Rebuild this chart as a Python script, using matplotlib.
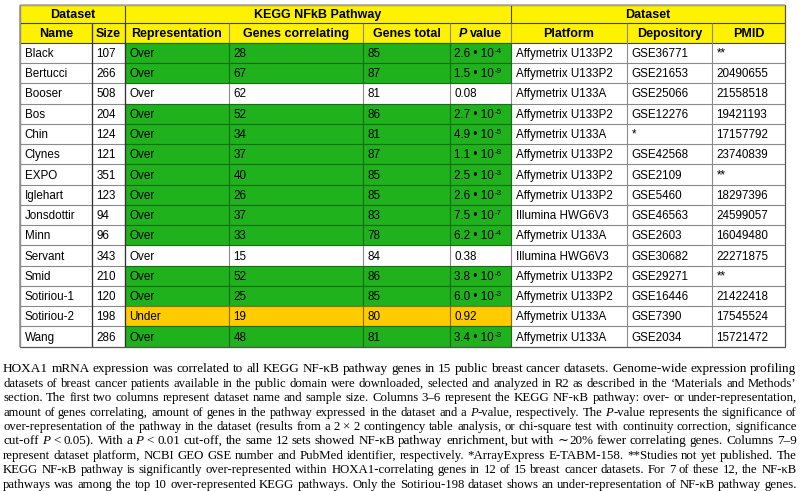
import re
import math
import matplotlib
matplotlib.use('Agg')
import matplotlib.pyplot as plt
from matplotlib.patches import Rectangle

# table data
names = ['Black', 'Bertucci', 'Booser', 'Bos', 'Chin', 'Clynes', 'EXPO', 'Iglehart',
         'Jonsdottir', 'Minn', 'Servant', 'Smid', 'Sotiriou-1', 'Sotiriou-2', 'Wang']
sizes = [107, 266, 508, 204, 124, 121, 351, 123, 94, 96, 343, 210, 120, 198, 286]
representation = ['Over'] * 13 + ['Under', 'Over']
genes_corr = [28, 67, 62, 52, 34, 37, 40, 26, 37, 33, 15, 52, 25, 19, 48]
genes_total = [85, 87, 81, 86, 81, 87, 85, 85, 83, 78, 84, 86, 85, 80, 81]
p_values = [2.6e-4, 1.5e-9, 0.08, 2.7e-5, 4.9e-5, 1.1e-8, 2.5e-3, 2.6e-3, 7.5e-7,
            6.2e-4, 0.38, 3.8e-6, 6.0e-3, 0.92, 3.4e-3]
platforms = ['Affymetrix U133P2', 'Affymetrix U133P2', 'Affymetrix U133A', 'Affymetrix U133P2',
             'Affymetrix U133A', 'Affymetrix U133P2', 'Affymetrix U133P2', 'Affymetrix U133P2',
             'Illumina HWG6V3', 'Affymetrix U133A', 'Illumina HWG6V3', 'Affymetrix U133P2',
             'Affymetrix U133P2', 'Affymetrix U133A', 'Affymetrix U133A']
depository = ['GSE36771', 'GSE21653', 'GSE25066', 'GSE12276', '*', 'GSE42568', 'GSE2109',
              'GSE5460', 'GSE46563', 'GSE2603', 'GSE30682', 'GSE29271', 'GSE16446',
              'GSE7390', 'GSE2034']
pmids = ['**', '20490655', '21558518', '19421193', '17157792', '23740839', '**', '18297396',
         '24599057', '16049480', '22271875', '**', '21422418', '17545524', '15721472']

group_headers = [('Dataset', 0, 2), ('KEGG NFkB Pathway', 2, 6), ('Dataset', 6, 9)]
col_headers = ['Name', 'Size', 'Representation', 'Genes correlating', 'Genes total',
               '{P} value', 'Platform', 'Depository', 'PMID']

# caption, {..} = italic
caption = [
    "HOXA1 mRNA expression was correlated to all KEGG NF-κB pathway genes in 15 public breast cancer datasets. Genome-wide expression profiling",
    "datasets of breast cancer patients available in the public domain were downloaded, selected and analyzed in R2 as described in the ‘Materials and Methods’",
    "section. The first two columns represent dataset name and sample size. Columns 3–6 represent the KEGG NF-κB pathway: over- or under-representation,",
    "amount of genes correlating, amount of genes in the pathway expressed in the dataset and a {P}-value, respectively. The {P}-value represents the significance of",
    "over-representation of the pathway in the dataset (results from a 2 × 2 contingency table analysis, or chi-square test with continuity correction, significance",
    "cut-off {P} < 0.05). With a {P} < 0.01 cut-off, the same 12 sets showed NF-κB pathway enrichment, but with ∼20% fewer correlating genes. Columns 7–9",
    "represent dataset platform, NCBI GEO GSE number and PubMed identifier, respectively. *ArrayExpress E-TABM-158. **Studies not yet published. The",
    "KEGG NF-κB pathway is significantly over-represented within HOXA1-correlating genes in 12 of 15 breast cancer datasets. For 7 of these 12, the NF-κB",
    "pathways was among the top 10 over-represented KEGG pathways. Only the Sotiriou-198 dataset shows an under-representation of NF-κB pathway genes.",
]

# layout (pixels)
col_w = [72, 33, 104, 134, 87, 61, 116, 85, 73]
x_left = 20
y_top = 4.5
h_group = 18.8
h_head = 19.4
h_row = 20.27
pad = 4.5

YELLOW = '#FFF200'
GREEN = '#20B21C'
ORANGE = '#FFCC00'
GRID = '#8a8a8a'
TFONT = 'Liberation Sans'
CFONT = 'Liberation Serif'
TSIZE = 8.4
HSIZE = 9.0

fig = plt.figure(figsize=(8, 4.91), dpi=100)
ax = fig.add_axes([0, 0, 1, 1])
ax.set_xlim(0, 800)
ax.set_ylim(491, 0)
ax.axis('off')
renderer = fig.canvas.get_renderer()

xs = [x_left]
for w in col_w:
    xs.append(xs[-1] + w)
x_right = xs[-1]
y_head = y_top + h_group
y_data = y_head + h_head
y_bottom = y_data + h_row * len(names)


def width_of(t):
    return t.get_window_extent(renderer).width


def set_baseline(t, base):
    # Agg snaps each text bitmap by its own descent; shift so every word
    # lands on the same pixel baseline
    _, h, d = renderer.get_text_width_height_descent(t.get_text(), t.get_fontproperties(), ismath=False)
    t.set_y(base - d + math.floor(h) - math.floor(h - d) + 0.02)


def draw_runs(x, y, runs, align='left'):
    # runs: (text, size, weight, style, dy, family, gap_before)
    arts, widths = [], []
    base = round(y)
    for txt, size, weight, style, dy, fam, gap in runs:
        t = ax.text(0, base + dy, txt, fontsize=size, fontweight=weight, fontstyle=style,
                    family=fam, va='baseline', ha='left', zorder=5)
        set_baseline(t, base + dy)
        arts.append(t)
        widths.append(width_of(t) + gap)
    total = sum(widths)
    x0 = x - total / 2 if align == 'center' else x
    for t, w, r in zip(arts, widths, runs):
        x0 += r[6]
        t.set_x(x0)
        x0 += w - r[6]
    return total


def header_runs(label):
    runs = []
    for i, part in enumerate(re.split(r'\{(.*?)\}', label)):
        if not part:
            continue
        style = 'italic' if i % 2 else 'normal'
        gap = 0
        if part.startswith(' '):
            part, gap = part.strip(), 2.8
        runs.append((part, HSIZE, 'bold', style, 0, TFONT, gap))
    return runs


def p_runs(p):
    if p >= 0.01:
        return [(f'{p:g}', TSIZE, 'normal', 'normal', 0, TFONT, 0)]
    mant, ex = f'{p:.1e}'.split('e')
    return [(f'{mant} \u2022 10', TSIZE, 'normal', 'normal', 0, TFONT, 0),
            (str(int(ex)), 5.8, 'normal', 'normal', -4, TFONT, 0.4)]


def cell_color(rep, p):
    if rep == 'Under':
        return ORANGE
    return GREEN if p < 0.05 else 'white'


# header background
ax.add_patch(Rectangle((x_left, y_top), x_right - x_left, h_group + h_head,
                       facecolor=YELLOW, edgecolor='none', zorder=1))

# coloured data cells
for i in range(len(names)):
    c = cell_color(representation[i], p_values[i])
    if c == 'white':
        continue
    y0 = y_data + i * h_row
    for j in range(2, 6):
        ec = '#146e12' if c == GREEN else '#8a7000'
        ax.add_patch(Rectangle((xs[j], y0), col_w[j], h_row, facecolor=c,
                               edgecolor=ec, lw=0.8, zorder=3))

# grid lines
ax.hlines([y_head, y_data], x_left, x_right, colors='#444444', lw=0.8, zorder=2)
ax.hlines([y_data + i * h_row for i in range(1, len(names))], x_left, x_right,
          colors=GRID, lw=0.8, zorder=2)
ax.vlines([xs[j] for j in range(1, 9)], y_head, y_bottom, colors=GRID, lw=0.8, zorder=2)
ax.vlines([xs[1], xs[2]], y_head, y_bottom, colors='#333333', lw=0.9, zorder=4)
ax.vlines([xs[2], xs[6]], y_top, y_head, colors='#444444', lw=0.8, zorder=2)
ax.add_patch(Rectangle((x_left, y_top), x_right - x_left, y_bottom - y_top,
                       facecolor='none', edgecolor='#555555', lw=0.9, zorder=4))
ax.hlines([y_top], x_left, x_right, colors='#b8b08a', lw=1.2, zorder=4)
ax.vlines([x_left], y_top, y_bottom, colors='#9a9a9a', lw=1.2, zorder=4)

# header text
base_off = 4.1
for label, a, b in group_headers:
    draw_runs((xs[a] + xs[b]) / 2, y_top + h_group / 2 + base_off, header_runs(label), 'center')
for j, label in enumerate(col_headers):
    draw_runs((xs[j] + xs[j + 1]) / 2, y_head + h_head / 2 + base_off, header_runs(label), 'center')

# data text
for i in range(len(names)):
    yb = y_data + (i + 0.5) * h_row + base_off
    values = [names[i], str(sizes[i]), representation[i], str(genes_corr[i]),
              str(genes_total[i]), None, platforms[i], depository[i], pmids[i]]
    for j, v in enumerate(values):
        runs = p_runs(p_values[i]) if v is None else [(v, TSIZE, 'normal', 'normal', 0, TFONT, 0)]
        draw_runs(xs[j] + pad, yb, runs)


# caption, fully justified word by word
def caption_words(line, base, size):
    words = []
    for w in line.split(' '):
        arts = []
        for part in re.split(r'(\{.*?\}|∼)', w):
            if not part:
                continue
            style, fam = 'normal', CFONT
            if part.startswith('{'):
                part, style = part[1:-1], 'italic'
            elif part == '∼':
                fam = 'DejaVu Serif'
            t = ax.text(0, base, part, fontsize=size, family=fam, fontstyle=style,
                        va='baseline', ha='left', zorder=5)
            set_baseline(t, base)
            arts.append((t, width_of(t)))
        words.append(arts)
    return words


cap_x0, cap_x1 = 3, 796.5
cap_y0, cap_dy = 372.5, 14.4
CSIZE = 9.2
for k, line in enumerate(caption):
    base = round(cap_y0 + k * cap_dy)
    words = caption_words(line, base, CSIZE)
    total = sum(wd for arts in words for _, wd in arts)
    ngap = len(words) - 1
    # nudge the size a little so word spacing stays close to normal
    size = CSIZE * min(max((cap_x1 - cap_x0 - ngap * 3.4) / total, 0.95), 1.06)
    if abs(size - CSIZE) > 0.01:
        for arts in words:
            for t, _ in arts:
                t.remove()
        words = caption_words(line, base, size)
        total = sum(wd for arts in words for _, wd in arts)
    gap = (cap_x1 - cap_x0 - total) / ngap
    x = cap_x0
    for arts in words:
        for t, wd in arts:
            t.set_x(x)
            x += wd
        x += gap

fig.savefig('out.png', dpi=100)
